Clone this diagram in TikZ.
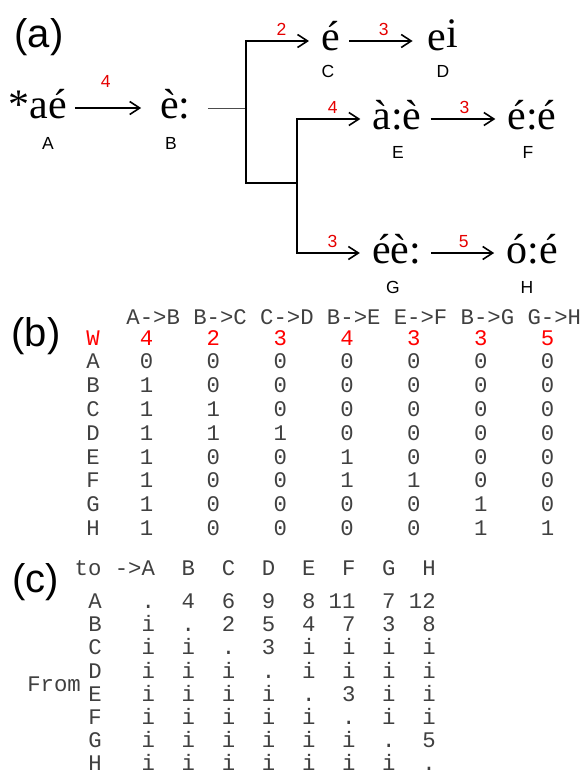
\documentclass[tikz,border=0pt]{standalone}
\usepackage{fontspec}
\setmainfont{Liberation Serif}
\setsansfont{Liberation Sans}
\setmonofont{Liberation Mono}
\usetikzlibrary{arrows.meta}
\colorlet{tabgray}{black!75}
\tikzset{
    panel/.style={font=\sffamily\fontsize{40}{40}\selectfont, inner sep=0pt},
    word/.style={font=\fontsize{42}{42}\selectfont, text height=20pt, text depth=0pt,
        inner ysep=0pt, inner xsep=4pt, anchor=base},
    tag/.style={font=\sffamily\fontsize{17.5}{17.5}\selectfont, inner sep=0pt},
    wt/.style={font=\sffamily\fontsize{17.5}{17.5}\selectfont, text=red!90!black, inner sep=0pt, above=5pt},
    arr/.style={line width=1.6pt, -{Straight Barb[length=10pt,width=13pt]}, shorten >=8pt},
    branch/.style={line width=1.6pt, line cap=rect},
    cell/.style={font=\ttfamily\fontsize{22.3}{22.3}\selectfont, text=tabgray, inner sep=0pt, anchor=base}
}

\begin{document}
\begin{tikzpicture}[x=1pt, y=-1pt]
        \useasboundingbox (0,0) rectangle (582,776);
        % (a)
        \node[panel] (pa) at (39,37.5) {(a)};
        \node[word] (wA) at (37.5,118) {*aé};
        \node[word] (wB) at (175.5,118) {è:};
        \node[word] (wC) at (330.5,51) {é};
        \node[word] (wD) at (443,51) {e\raisebox{3pt}{i}};
        \node[word] (wE) at (397,129) {à:è};
        \node[word] (wF) at (532,129) {é:é};
        \node[word] (wG) at (396.5,263) {éè:};
        \node[word] (wH) at (532,263) {ó:é};
        \node[tag] (tA) at (48,143.5) {A};
        \node[tag] (tB) at (171,143.5) {B};
        \node[tag] (tC) at (328,71) {C};
        \node[tag] (tD) at (443,71) {D};
        \node[tag] (tE) at (398,152) {E};
        \node[tag] (tF) at (528,152) {F};
        \node[tag] (tG) at (393,287) {G};
        \node[tag] (tH) at (527,287) {H};
        \coordinate (j1) at (246,108);
        \coordinate (j1b) at (246,183);
        \coordinate (j2) at (297,183);
        \draw[arr, shorten <=4pt, shorten >=15pt] (wA) -- node[wt, pos=0.41, above=14.3pt] {4} (wB);
        \draw[line width=1pt, black!70, shorten <=13pt] (wB.east) -- (j1);
        \draw[arr, branch] (j2) -- (j1b) |- node[wt, pos=0.75] {2} (wC);
        \draw[arr, branch] (j2) |- node[wt, pos=0.75] {4} (wE);
        \draw[arr, branch] (j2) |- node[wt, pos=0.75] {3} (wG);
        \draw[arr, shorten <=5pt, shorten >=11pt] (wC) -- node[wt] {3} (wD);
        \draw[arr, shorten <=5pt] (wE) -- node[wt] {3} (wF);
        \draw[arr, shorten <=6pt] (wG) -- node[wt] {5} (wH);
        % (b)
        \node[panel] (pb) at (36,336) {(b)};
        \foreach \h [count=\k from 0] in {A->B,B->C,C->D,B->E,E->F,B->G,G->H}
            \node[cell] (hb-\k) at (153.2+66.85*\k,324) {\h};
        \foreach \r/\clr/\vals [count=\i from 0] in {W/red/{4,2,3,4,3,3,5},
                A/tabgray/{0,0,0,0,0,0,0}, B/tabgray/{1,0,0,0,0,0,0},
                C/tabgray/{1,1,0,0,0,0,0}, D/tabgray/{1,1,1,0,0,0,0},
                E/tabgray/{1,0,0,1,0,0,0}, F/tabgray/{1,0,0,1,1,0,0},
                G/tabgray/{1,0,0,0,0,1,0}, H/tabgray/{1,0,0,0,0,1,1}} {
            \node[cell, text=\clr] (rb-\r) at (93,345+23.8*\i) {\r};
            \foreach \v [count=\j from 0] in \vals
                \node[cell, text=\clr] (b-\r-\j) at (146.5+66.85*\j,345+23.8*\i) {\v};
        }
        % (c)
        \node[panel] (pc) at (36,582) {(c)};
        \node[cell, anchor=base east] (hc-A) at (155.2,575) {to ->A};
        \foreach \c [count=\k from 1] in {B,C,D,E,F,G,H}
            \node[cell, anchor=base east] (hc-\c) at (155.2+40.1*\k,575) {\c};
        \node[cell, anchor=base east] (from) at (81,691) {From};
        \foreach \r/\vals [count=\i from 0] in {A/{.,4,6,9,8,11,7,12},
                B/{i,.,2,5,4,7,3,8}, C/{i,i,.,3,i,i,i,i}, D/{i,i,i,.,i,i,i,i},
                E/{i,i,i,i,.,3,i,i}, F/{i,i,i,i,i,.,i,i}, G/{i,i,i,i,i,i,.,5},
                H/{i,i,i,i,i,i,i,.}} {
            \node[cell] (rc-\r) at (95,608.5+23.2*\i) {\r};
            \foreach \v [count=\j from 0] in \vals
                \node[cell, anchor=base east] (c-\r-\j) at (155.2+40.1*\j,608.5+23.2*\i) {\v};
        }
\end{tikzpicture}
\end{document}
